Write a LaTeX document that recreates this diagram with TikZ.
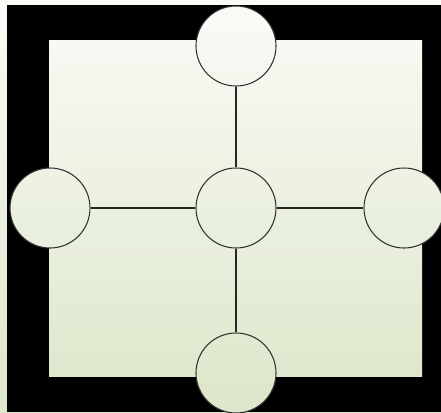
\documentclass[tikz,border=0pt]{standalone}
\definecolor{paper}{RGB}{250, 251, 247}
\definecolor{leaf}{RGB}{220, 230, 201}
\usepackage{tikz}
\usetikzlibrary{shapes, positioning, calc}

\begin{document}
\begin{tikzpicture}[
  x=0.75pt, y=-0.75pt,
  hub/.style 2 args={circle, draw=black!80, line width=0.8pt, minimum size=60pt, inner sep=0pt,
    top color=leaf!#1!paper, bottom color=leaf!#2!paper},
  wire/.style={draw=black!85, line width=0.8pt}
]
  \clip (0,0) rectangle (441,412);
  \useasboundingbox (0,0) rectangle (441,412);
  % backdrop
  \shade[top color=paper, bottom color=leaf] (0,0) rectangle (441,412);
  \fill[black] (7,5) rectangle (441,412);
  \shade[top color=leaf!10!paper, bottom color=leaf!91!paper] (49,40) rectangle (422,376);

  \node[hub={2}{20}] (top) at (236,46) {};
  \node[hub={41}{60}] (mid) at (236,208) {};
  \node[hub={41}{60}] (left) at (50,208) {};
  \node[hub={41}{60}] (right) at (404,208) {};
  \node[hub={81}{100}] (bottom) at (236,373) {};

  \draw[wire] (top) -- (mid);
  \draw[wire] (mid) -- (bottom);
  \draw[wire] (left) -- (mid);
  \draw[wire] (mid) -- (right);
\end{tikzpicture}
\end{document}
